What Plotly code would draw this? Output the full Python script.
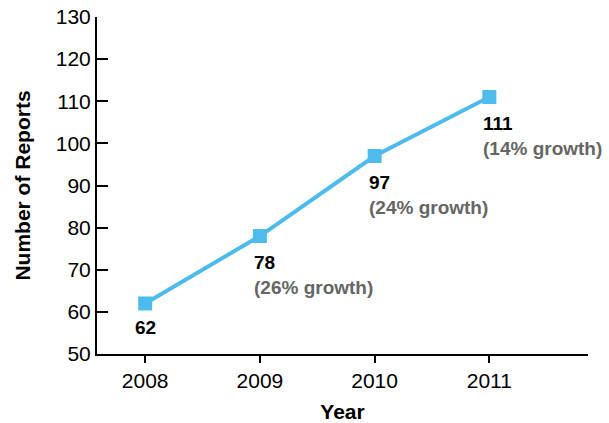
import plotly.graph_objects as go

years = [2008, 2009, 2010, 2011]
reports = [62, 78, 97, 111]
growth = [None, "26% growth", "24% growth", "14% growth"]
y_ticks = list(range(50, 131, 10))

line_color = "#4DBCEC"
font_family = "Liberation Sans, Arial, Helvetica, sans-serif"

fig = go.Figure()
fig.add_trace(go.Scatter(
    x=years, y=reports,
    mode="lines+markers",
    line=dict(color=line_color, width=4),
    marker=dict(symbol="square", size=14, color=line_color),
    hoverinfo="skip",
    showlegend=False,
))

# value labels under each point, with growth percentages in grey
for yr, val, g in zip(years, reports, growth):
    if g is None:
        fig.add_annotation(
            x=yr, y=val, xref="x", yref="y",
            text=f"<b>{val}</b>",
            showarrow=False, xanchor="center", yanchor="top",
            yshift=-12,
            font=dict(size=19, color="#000000", family=font_family),
        )
    else:
        fig.add_annotation(
            x=yr, y=val, xref="x", yref="y",
            text=f"<b>{val}</b><br><b><span style='color:#666666'>({g})</span></b>",
            showarrow=False, xanchor="left", yanchor="top", align="left",
            xshift=-8, yshift=-14,
            font=dict(size=19, color="#000000", family=font_family),
        )

fig.update_layout(
    width=609, height=423,
    margin=dict(l=97, r=21, t=17, b=69, autoexpand=False),
    paper_bgcolor="white", plot_bgcolor="white",
    font=dict(family=font_family, size=21, color="#000000"),
    xaxis=dict(
        range=[2007.58, 2011.86],
        tickmode="array", tickvals=years, ticktext=[str(y) for y in years],
        showgrid=False, zeroline=False, automargin=False,
        showline=True, linecolor="#000000", linewidth=2,
        ticks="outside", ticklen=7, tickwidth=2, tickcolor="#000000",
        tickfont=dict(size=21),
        title=dict(text="<b>Year</b>", font=dict(size=21), standoff=16),
    ),
    yaxis=dict(
        range=[50, 130],
        tickmode="array", tickvals=y_ticks,
        showgrid=False, zeroline=False, automargin=False,
        showline=True, linecolor="#000000", linewidth=2,
        ticks="inside", ticklen=11, tickwidth=2, tickcolor="#000000",
        tickfont=dict(size=21),
        title=dict(text="<b>Number of Reports</b>", font=dict(size=21), standoff=19),
    ),
)

fig.write_html("out.html")
